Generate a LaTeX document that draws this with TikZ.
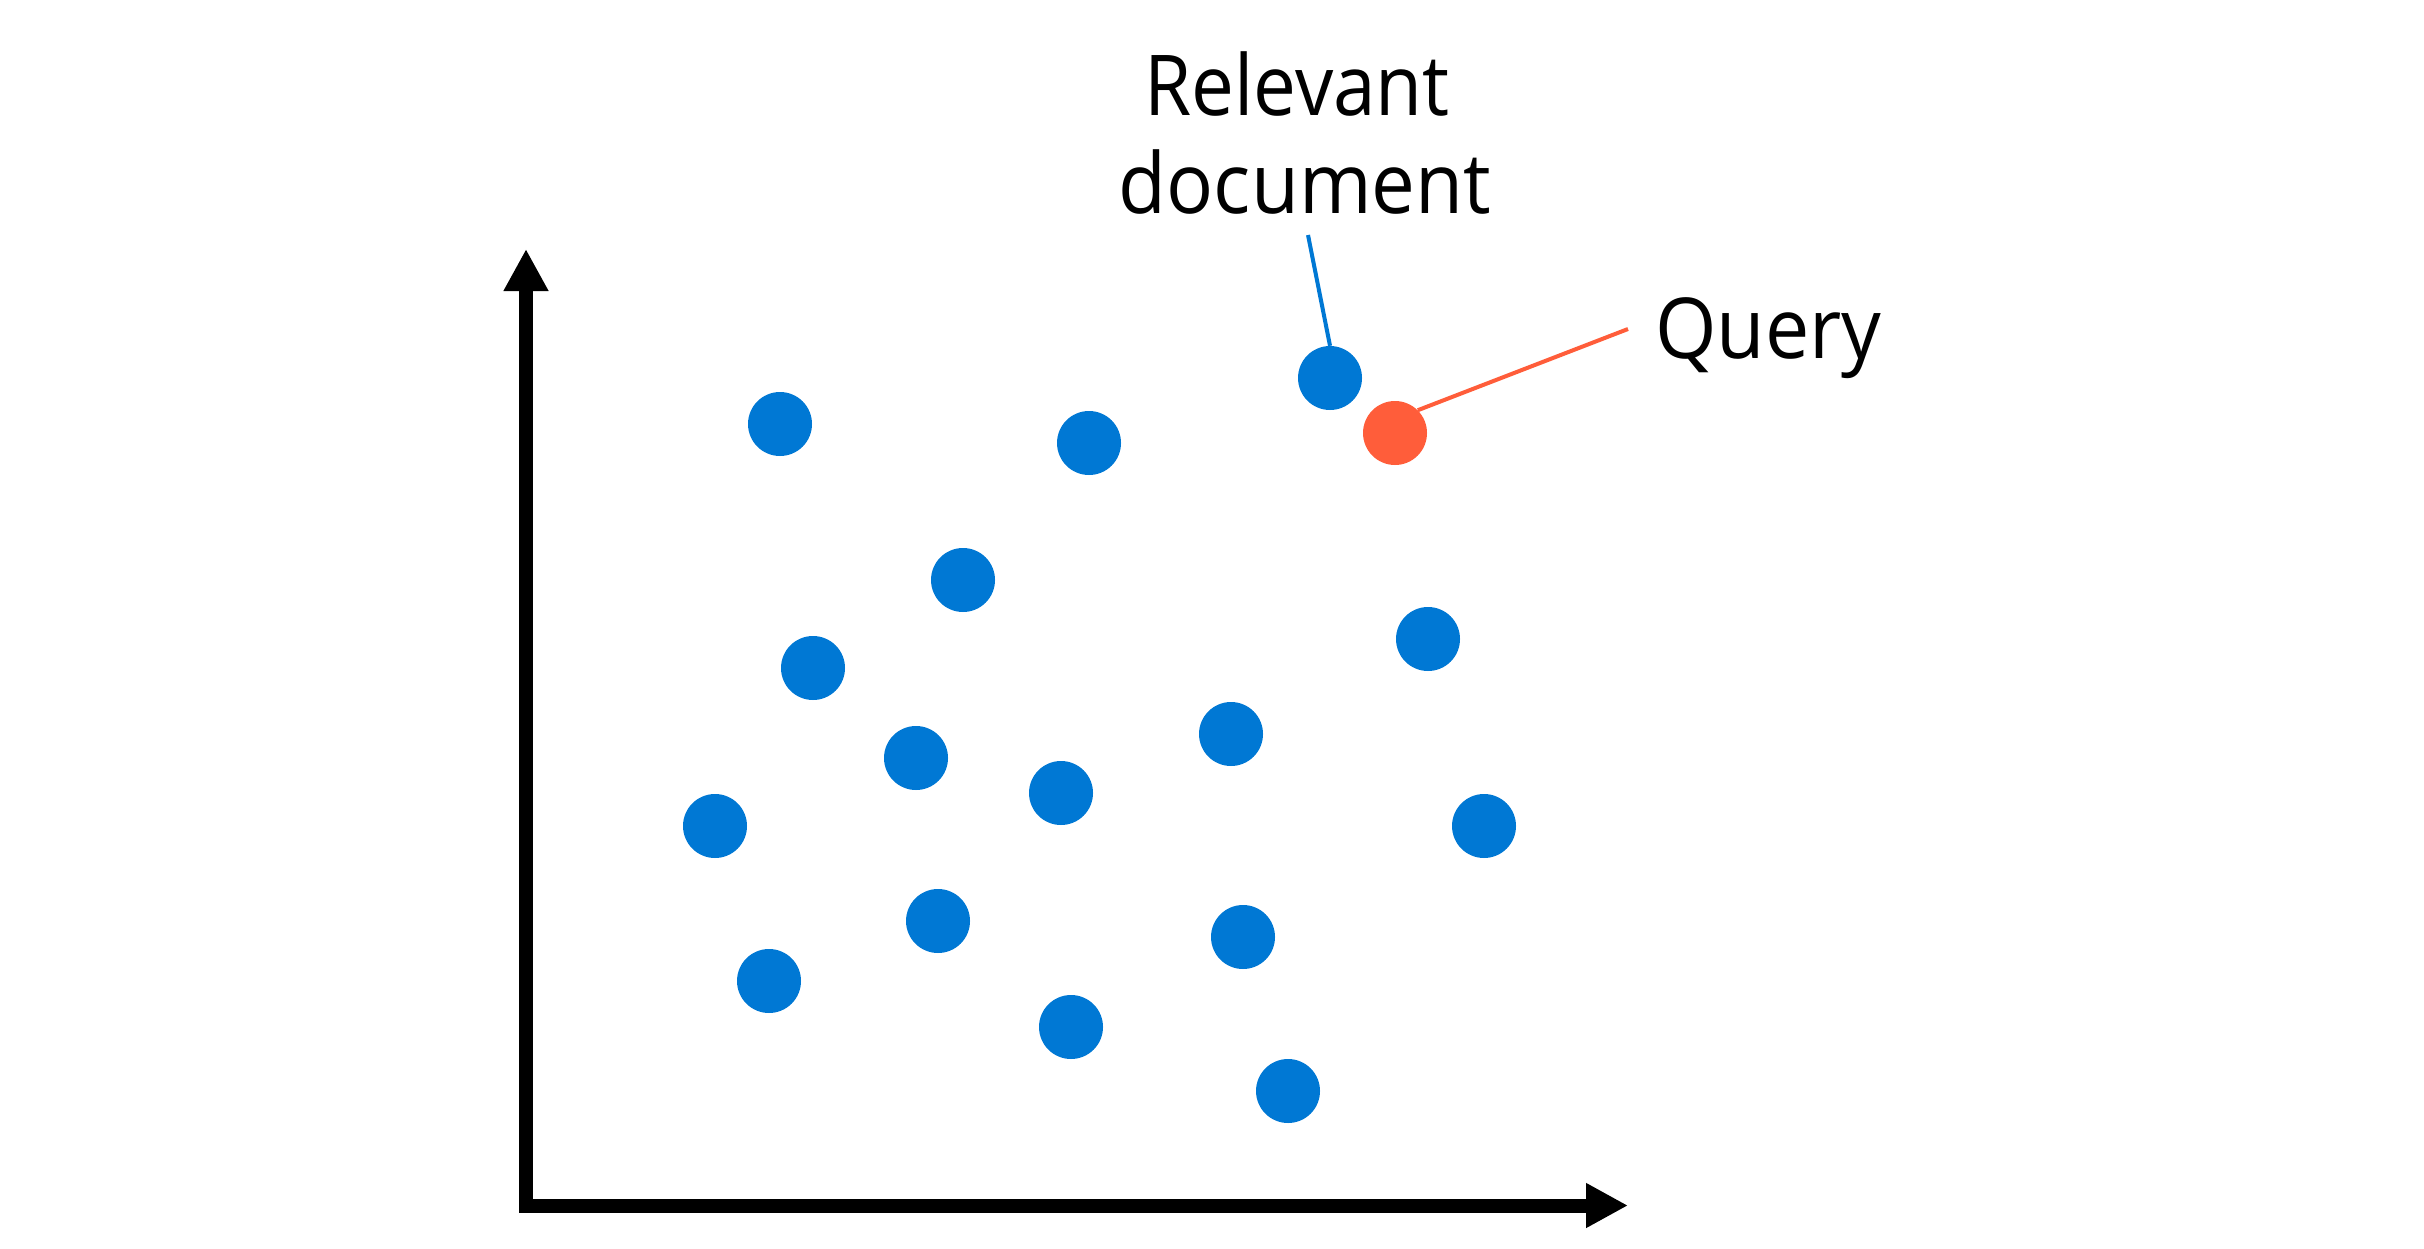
\documentclass[tikz,border=0pt]{standalone}
\usepackage{fontspec}
\setmainfont{Open Sans}
\usetikzlibrary{arrows.meta}
\definecolor{docblue}{RGB}{0,120,212}
\definecolor{queryred}{RGB}{255,93,58}
\newcommand{\narrowtext}[2]{\scalebox{#1}[1]{#2}}
\tikzset{
  docdot/.style={circle, fill=docblue, draw=none, minimum size=64pt, inner sep=0pt},
  querydot/.style={circle, fill=queryred, draw=none, minimum size=64pt, inner sep=0pt},
  axisline/.style={line width=14pt, -{Triangle[length=42pt,width=42pt]}},
  labeltext/.style={inner sep=0pt, font=\fontsize{84}{98}\selectfont, text=black},
}
\begin{document}
\begin{tikzpicture}[x=1pt, y=-1pt]
\useasboundingbox (0,0) rectangle (2424,1249);
\fill[white] (0,0) rectangle (2424,1249);
% axes
\coordinate (yo) at (526,1212.5);
\coordinate (ytip) at (526,249);
\coordinate (xo) at (519,1205.5);
\coordinate (xtip) at (1628,1205.5);
\draw[axisline] (yo) -- (ytip);
\draw[axisline] (xo) -- (xtip);
% documents
\node[docdot] (d1) at (780,424) {};
\node[docdot] (d2) at (1089,443) {};
\node[docdot] (rd) at (1330,378) {};
\node[docdot] (d5) at (963,580) {};
\node[docdot] (d6) at (813,668) {};
\node[docdot] (d7) at (1428,639) {};
\node[docdot] (d8) at (916,758) {};
\node[docdot] (d9) at (1231,734) {};
\node[docdot] (d10) at (1061,793) {};
\node[docdot] (d11) at (715,826) {};
\node[docdot] (d12) at (1484,826) {};
\node[docdot] (d13) at (938,921) {};
\node[docdot] (d14) at (1243,937) {};
\node[docdot] (d15) at (769,981) {};
\node[docdot] (d16) at (1071,1027) {};
\node[docdot] (d17) at (1288,1091) {};
% query
\node[querydot] (q) at (1395,433) {};
% labels
\node[labeltext, anchor=base] (rellabel) at (1297,116) {\narrowtext{0.91}{Relevant}};
\node[labeltext, anchor=base] (doclabel) at (1305,214) {\narrowtext{0.93}{document}};
\node[labeltext, anchor=base west] (qlabel) at (1655,358) {\narrowtext{0.94}{Query}};
% connectors
\coordinate (reltail) at (1308,235);
\coordinate (qtail) at (1628,329);
\draw[docblue, line width=4pt] (reltail) -- (rd.north);
\draw[queryred, line width=4pt] (qtail) -- (q.45);
\end{tikzpicture}
\end{document}
